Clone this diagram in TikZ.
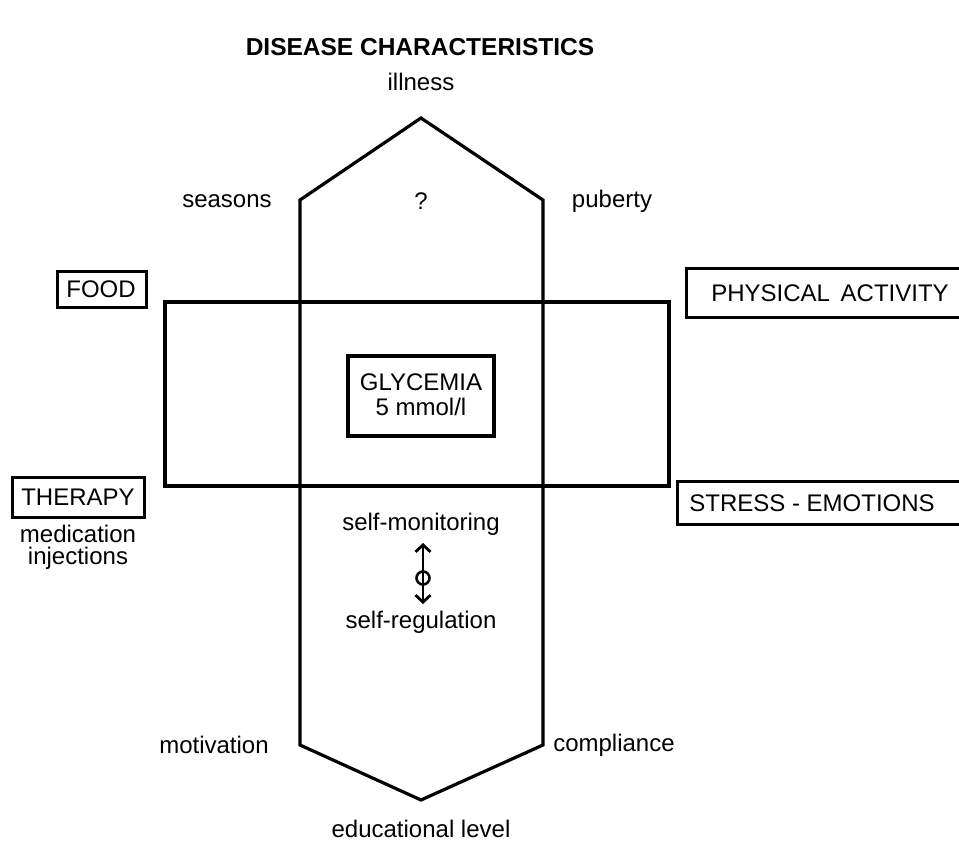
\documentclass[tikz,border=0pt]{standalone}
\usepackage{fontspec}
\setmainfont{Liberation Sans}
\usetikzlibrary{arrows.meta}
\begin{document}
\begin{tikzpicture}[x=1pt,y=-1pt,
  lbl/.style={font=\fontsize{24}{28}\selectfont, inner sep=0pt},
  outline/.style={line width=3.2pt, line join=miter},
  boxline/.style={line width=3pt}]
\useasboundingbox (0,0) rectangle (959,841);
% title
\node[lbl, font=\fontsize{24.5}{28}\selectfont\bfseries] (title) at (420,47) {DISEASE CHARACTERISTICS};
% hexagon
\coordinate (ht) at (421,118);
\coordinate (hl) at (300,200);
\coordinate (hr) at (543,200);
\coordinate (hbl) at (300,745);
\coordinate (hbr) at (543,745);
\coordinate (hb) at (421,800);
\draw[outline] (ht) -- (hr) -- (hbr) -- (hb) -- (hbl) -- (hl) -- cycle;
% horizontal rectangle
\draw[outline] (165,302) rectangle (669,486);
% labels
\node[lbl] (illness) at (421,82) {illness};
\node[lbl] (seasons) at (227,201) {seasons};
\node[lbl] (q) at (421,201) {?};
\node[lbl] (puberty) at (612,201) {puberty};
\node[lbl] (motivation) at (214,745) {motivation};
\node[lbl] (compliance) at (614,745) {compliance};
\node[lbl] (edu) at (421,829) {educational level};
% boxes
\draw[boxline] (57,271) rectangle (146,307);
\node[lbl] (food) at (101,289) {FOOD};
\draw[boxline] (686,268) rectangle (975,317);
\node[lbl] (phys) at (830,293) {PHYSICAL\, ACTIVITY};
\draw[boxline] (677,481) rectangle (975,524);
\node[lbl] (stress) at (812,503) {STRESS - EMOTIONS};
\draw[boxline] (12,477) rectangle (144,517);
\node[lbl] (therapy) at (78,497) {THERAPY};
\node[lbl, align=center, font=\fontsize{24}{22}\selectfont] (med) at (78,547) {medication\\injections};
% glycemia
\draw[outline] (348,356) rectangle (494,436);
\node[lbl, align=center, font=\fontsize{24}{25}\selectfont] (gly) at (421,395) {GLYCEMIA\\5 mmol/l};
% self monitoring
\node[lbl] (smon) at (421,524) {self-monitoring};
\node[lbl] (sreg) at (421,622) {self-regulation};
\coordinate (atop) at (423,543);
\coordinate (abot) at (423,604);
\draw[line width=2.8pt, {Straight Barb[length=7pt,width=15pt]}-{Straight Barb[length=7pt,width=15pt]}] (atop) -- (abot);
\node[draw, circle, line width=2.6pt, minimum size=13pt, inner sep=0pt] (circ) at (423,578) {};
\end{tikzpicture}
\end{document}
